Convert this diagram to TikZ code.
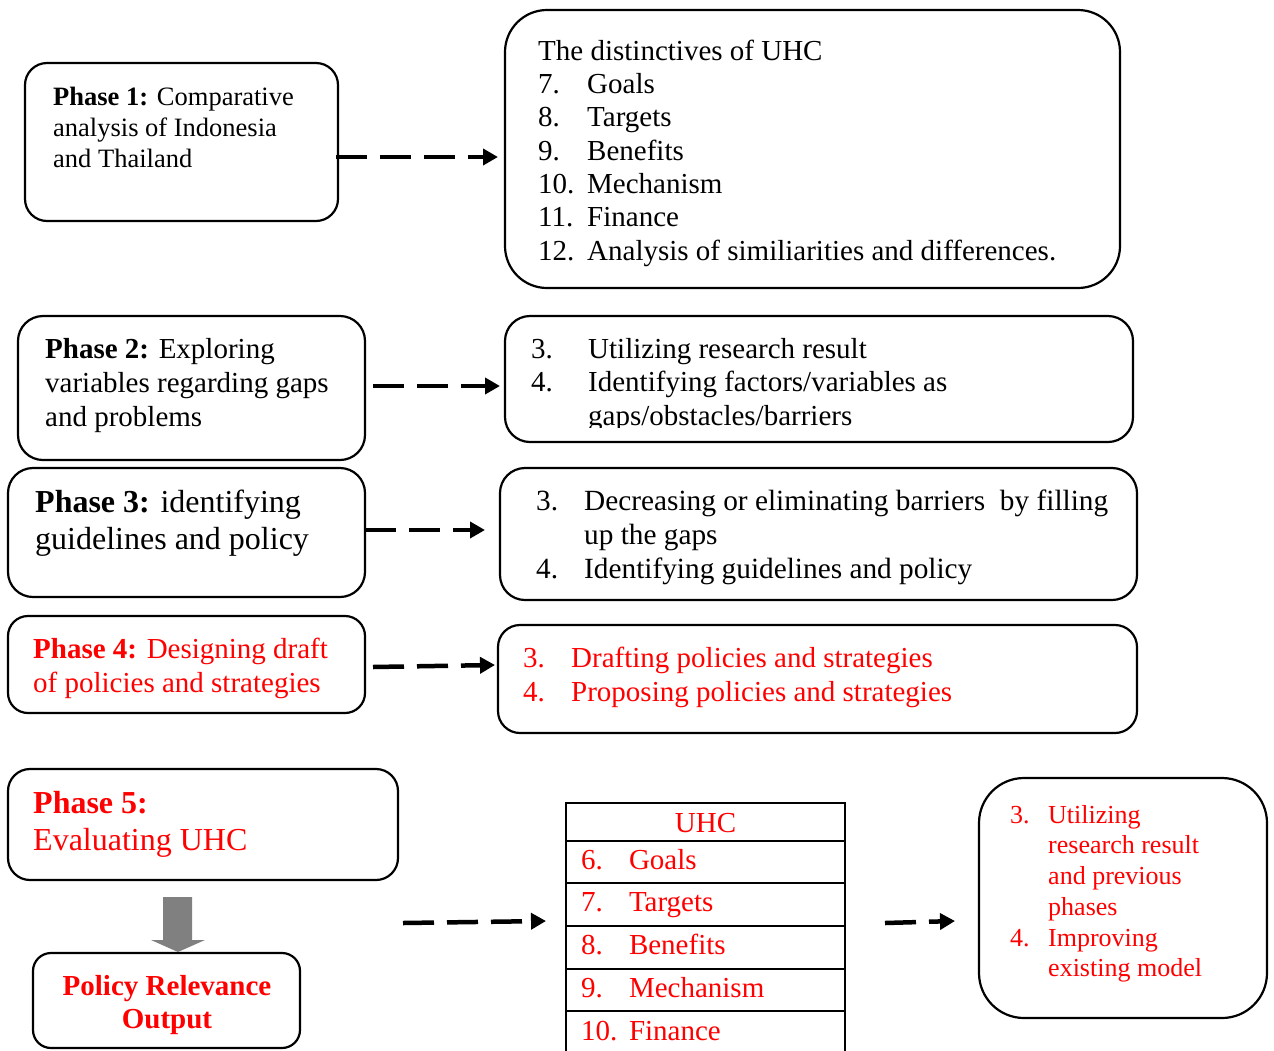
\documentclass[tikz,border=0pt]{standalone}
\usepackage{fontspec}
\setmainfont{Liberation Serif}
\usetikzlibrary{arrows.meta}
\definecolor{hl}{RGB}{255,0,0}
\definecolor{blockgray}{RGB}{128,128,128}
% fixed-width label column for numbered items
\newcommand\numcol[2]{\makebox[#1][l]{#2}}
\begin{document}
\begin{tikzpicture}[x=1pt,y=-1pt,
  rbox/.style={draw, line width=2.2pt, rounded corners=#1, inner sep=0pt, outer sep=0pt, anchor=north west},
  tx/.style={inner sep=0pt, anchor=north west, align=left},
  link/.style={line width=4.5pt, dash pattern=on 31pt off 13pt, -{Triangle[length=15pt,width=16pt]}},
  cell/.style={draw, line width=2.2pt, anchor=north west, outer sep=0pt, minimum width=279pt, text width=249pt,
    inner xsep=15pt, inner ysep=0pt, align=left, font=\fontsize{29}{34}\selectfont,
    text height=20pt, text depth=6pt, text=hl},
]
\useasboundingbox (0,0) rectangle (1274,1050);

% ---------- Phase 1 ----------
\node[rbox=22pt, minimum width=313pt, minimum height=158pt] (p1) at (25,63) {};
\node[tx, font=\fontsize{26.5}{31}\selectfont] (p1t) at (53,83.3)
  {\strut\textbf{Phase 1:} Comparative\\analysis of Indonesia\\and Thailand};

\node[rbox=42pt, minimum width=615pt, minimum height=278pt] (d1) at (505,10) {};
\node[tx, font=\fontsize{29}{33.3}\selectfont] (d1t) at (538,36.7)
  {\strut The distinctives of UHC\\
   \numcol{49pt}{7.}Goals\\
   \numcol{49pt}{8.}Targets\\
   \numcol{49pt}{9.}Benefits\\
   \numcol{49pt}{10.}Mechanism\\
   \numcol{49pt}{11.}Finance\\
   \numcol{49pt}{12.}Analysis of similiarities and differences.};

% ---------- Phase 2 ----------
\node[rbox=25pt, minimum width=347pt, minimum height=144pt] (p2) at (18,316) {};
\node[tx, font=\fontsize{29}{34}\selectfont] (p2t) at (45,334.2)
  {\strut\textbf{Phase 2:} Exploring\\variables regarding gaps\\and problems};

\node[rbox=25pt, minimum width=628pt, minimum height=126pt] (d2) at (505,316) {};
\begin{scope}
  \clip (505,316) rectangle (1133,427);
  \node[tx, font=\fontsize{29}{33.5}\selectfont] (d2t) at (531,334.55)
    {\strut\numcol{57pt}{3.}Utilizing research result\\
     \numcol{57pt}{4.}Identifying factors/variables as\\
     \numcol{57pt}{}gaps/obstacles/barriers};
\end{scope}

% ---------- Phase 3 ----------
\node[rbox=25pt, minimum width=357pt, minimum height=129pt] (p3) at (8,468) {};
\node[tx, font=\fontsize{32}{37}\selectfont] (p3t) at (35,486.1)
  {\strut\textbf{Phase 3:} identifying\\guidelines and policy};

\node[rbox=25pt, minimum width=637pt, minimum height=132pt] (d3) at (500,468) {};
\node[tx, font=\fontsize{29.3}{34}\selectfont] (d3t) at (536,486.2)
  {\strut\numcol{48pt}{3.}Decreasing or eliminating barriers~ by filling\\
   \numcol{48pt}{}up the gaps\\
   \numcol{48pt}{4.}Identifying guidelines and policy};

% ---------- Phase 4 ----------
\node[rbox=20pt, minimum width=357pt, minimum height=97pt] (p4) at (8,616) {};
\node[tx, text=hl, font=\fontsize{29}{34}\selectfont] (p4t) at (33,634.2)
  {\strut\textbf{Phase 4:} Designing draft\\of policies and strategies};

\node[rbox=22pt, minimum width=639pt, minimum height=108pt] (d4) at (498,625) {};
\node[tx, text=hl, font=\fontsize{29}{34.5}\selectfont] (d4t) at (523,642.85)
  {\strut\numcol{48pt}{3.}Drafting policies and strategies\\
   \numcol{48pt}{4.}Proposing policies and strategies};

% ---------- Phase 5 ----------
\node[rbox=22pt, minimum width=390pt, minimum height=111pt] (p5) at (8,769) {};
\node[tx, text=hl, font=\fontsize{32}{37}\selectfont] (p5t) at (33,787.1)
  {\strut\textbf{Phase 5:}\\Evaluating UHC};

\node[rbox=18pt, minimum width=267pt, minimum height=95pt] (po) at (33,953) {};
\node[inner sep=0pt, anchor=north, align=center, text=hl, font=\bfseries\fontsize{29}{33}\selectfont]
  (pot) at (167,971.9) {\strut Policy Relevance\\Output};

% block arrow from Phase 5 down to the output box
\fill[blockgray] (163,897) -- (192,897) -- (192,940) -- (205,940) -- (178,952)
  -- (151,940) -- (163,940) -- cycle;

% UHC table
\node[cell, align=center, minimum height=38pt, text depth=0pt] (uh) at (566,803) {UHC};
\node[cell, minimum height=42pt] (u6) at (uh.south west) {\numcol{48pt}{6.}Goals};
\node[cell, minimum height=43pt] (u7) at (u6.south west) {\numcol{48pt}{7.}Targets};
\node[cell, minimum height=43pt] (u8) at (u7.south west) {\numcol{48pt}{8.}Benefits};
\node[cell, minimum height=42pt] (u9) at (u8.south west) {\numcol{48pt}{9.}Mechanism};
\node[cell, minimum height=44pt] (u10) at (u9.south west) {\numcol{48pt}{10.}Finance};

\node[rbox=45pt, minimum width=288pt, minimum height=240pt] (d6) at (979,778) {};
\node[tx, text=hl, font=\fontsize{26}{30.7}\selectfont] (d6t) at (1010,801.5)
  {\strut\numcol{38pt}{3.}Utilizing\\
   \numcol{38pt}{}research result\\
   \numcol{38pt}{}and previous\\
   \numcol{38pt}{}phases\\
   \numcol{38pt}{4.}Improving\\
   \numcol{38pt}{}existing model};

% ---------- dashed links ----------
\coordinate (a1s) at (336,157);  \coordinate (a1e) at (498,157);
\coordinate (a2s) at (373,386);  \coordinate (a2e) at (500,386);
\coordinate (a3s) at (365,530);  \coordinate (a3e) at (485,530);
\coordinate (a4s) at (373,667);  \coordinate (a4e) at (495,665);
\coordinate (a5s) at (403,923);  \coordinate (a5e) at (546,921);
\coordinate (a6s) at (885,923);  \coordinate (a6e) at (955,921);
\draw[link] (a1s) -- (a1e);
\draw[link] (a2s) -- (a2e);
\draw[link] (a3s) -- (a3e);
\draw[link] (a4s) -- (a4e);
\draw[link] (a5s) -- (a5e);
\draw[link] (a6s) -- (a6e);
\end{tikzpicture}
\end{document}
